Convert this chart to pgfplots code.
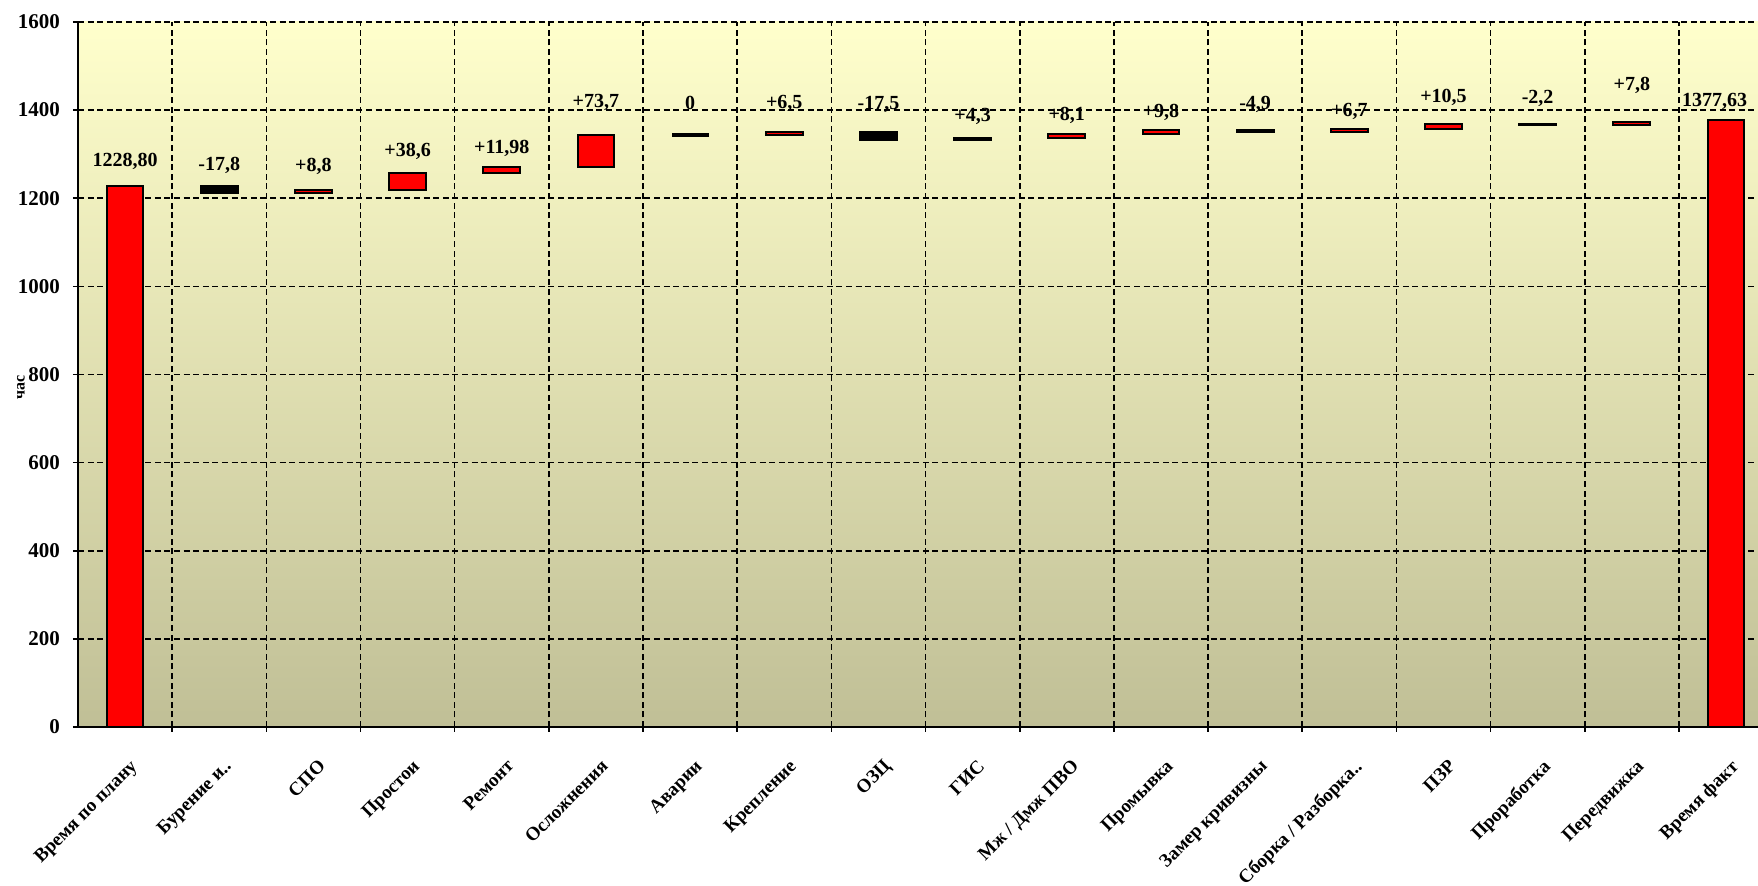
\documentclass[border=0pt]{standalone}
\usepackage{fontspec}
\setmainfont{Liberation Serif}
\usepackage{pgfplots}
\usepackage{pgfplotstable}
\pgfplotsset{compat=1.18}

\definecolor{bgtop}{RGB}{255,255,204}
\definecolor{bgbot}{RGB}{192,191,150}
\definecolor{barred}{RGB}{255,0,0}

% waterfall: invisible base, rise (red), fall (black)
\pgfplotstableread{
x base up down
0  0        1228.80 0
1  1211.00  0       17.8
2  1211.00  8.8     0
3  1219.80  38.6    0
4  1258.40  11.98   0
5  1270.38  73.7    0
6  1344.08  0       0
7  1344.08  6.5     0
8  1333.08  0       17.5
9  1333.08  4.3     0
10 1337.38  8.1     0
11 1345.48  9.8     0
12 1350.38  0       4.9
13 1350.38  6.7     0
14 1357.08  10.5    0
15 1365.38  0       2.2
16 1365.38  7.8     0
17 0        1377.63 0
}\bars

% steps without change, drawn as a flat stroke at their level
\pgfplotstableread{
x y
6 1344.08
}\flat

% value labels and the height at which each one sits
\pgfplotstableread{
x ly lbl
0     1284 1228,80
1     1275 -17,8
2     1272 +8,8
3     1306 +38,6
4     1313 +11,98
5     1418 +73,7
6     1416 0
7     1416 +6,5
8     1413 -17,5
9     1386 +4,3
10    1389 +8,1
11    1395 +9,8
12    1414 -4,9
13    1396 +6,7
14    1429 +10,5
15    1426 -2,2
16    1457 +7,8
16.88 1419 1377,63
}\labels

\pgfplotsset{
  wf/.style={
    width=840pt, height=352.5pt, scale only axis,
    xmin=-0.5, xmax=17.34, ymin=0, ymax=1600,
    clip=false,
  },
}

\begin{document}
\begin{tikzpicture}
\useasboundingbox (-39pt,-79.5pt) rectangle (840pt,363.5pt);
\begin{axis}[wf,
  ybar stacked, bar width=0.39,
  axis background/.style={top color=bgtop, bottom color=bgbot},
  axis lines*=left,
  axis line style={black, line width=0.8pt},
  ytick={0,200,...,1600},
  xtick={0,...,17},
  xticklabels={{Время по плану},{Бурение и..},{СПО},{Простои},{Ремонт},{Осложнения},{Аварии},{Крепление},{ОЗЦ},{ГИС},{Мж / Дмж ПВО},{Промывка},{Замер кривизны},{Сборка / Разборка..},{ПЗР},{Проработка},{Передвижка},{Время факт}},
  minor xtick={0.5,1.5,...,16.5},
  every major x tick/.style={draw=none},
  tick align=center,
  major tick length=5pt, minor tick length=5pt,
  tick style={black, line width=0.8pt},
  ymajorgrids, xminorgrids,
  major grid style={black, line width=0.8pt, dash pattern=on 3pt off 1.8pt},
  minor grid style={black, line width=0.8pt, dash pattern=on 3pt off 1.8pt},
  /pgf/number format/assume math mode=true,
  /pgf/number format/1000 sep={},
  yticklabel style={font=\fontsize{10.5}{12}\selectfont\bfseries, xshift=-3pt},
  xticklabel style={font=\fontsize{9.5}{11}\selectfont\bfseries, xshift=2pt, yshift=-13pt, rotate=45, anchor=north east, inner sep=0pt},
  ylabel={час},
  ylabel style={font=\fontsize{8}{10}\selectfont\bfseries, at={(axis description cs:-0.034,0.482)}, anchor=center},
]
\addplot[draw=none, fill=none] table[x=x, y=base] {\bars};
\addplot[fill=barred, draw=black, line width=1pt] table[x=x, y=up] {\bars};
\addplot[fill=black, draw=black, line width=1pt] table[x=x, y=down] {\bars};
\end{axis}
\begin{axis}[wf, hide axis]
\addplot[only marks, mark=-, mark size=9.2pt, mark options={line width=1.8pt, black}]
  table[x=x, y=y] {\flat};
\addplot[draw=none, mark=none,
  nodes near coords, point meta=explicit symbolic,
  nodes near coords align=center,
  every node near coord/.append style={font=\fontsize{10}{12}\selectfont\bfseries, anchor=center, inner sep=0pt}]
  table[x=x, y=ly, meta=lbl] {\labels};
\end{axis}
\end{tikzpicture}
\end{document}
